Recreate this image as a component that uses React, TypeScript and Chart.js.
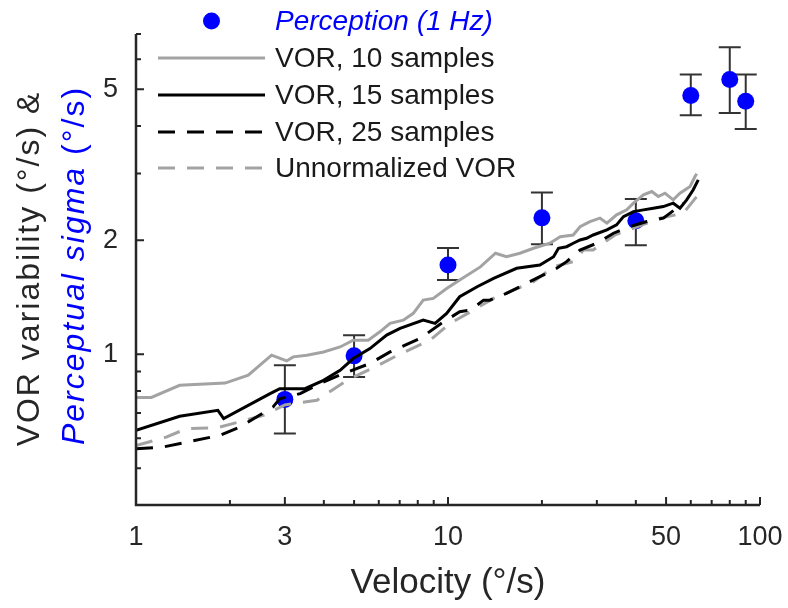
import React, { useEffect, useRef } from "react";
import { Chart, registerables } from "chart.js";

Chart.register(...registerables);

const FONT = '"Liberation Sans", Arial, Helvetica, sans-serif';

// ---- tick values ----
const xTicks = [1, 3, 10, 50, 100];
const yTicks = [1, 2, 5];
const xMinorTicks = [2, 4, 5, 6, 7, 8, 9, 20, 30, 40, 60, 70, 80, 90];
const yMinorTicks = [0.4, 0.5, 0.6, 0.7, 0.8, 0.9, 3, 4, 6, 7];

// ---- perception data (1 Hz) ----
const perceptionX = [3, 5, 10, 20, 40, 60, 80, 90];
const perceptionY = [0.76, 0.99, 1.72, 2.29, 2.25, 4.82, 5.31, 4.65];
const perceptionLow = [0.618, 0.871, 1.57, 1.95, 1.94, 4.27, 4.33, 3.93];
const perceptionHigh = [0.935, 1.123, 1.907, 2.67, 2.57, 5.47, 6.46, 5.47];

// ---- VOR, 10 samples ----
const vor10X = [1, 1.12, 1.38, 1.93, 2.29, 2.72, 3.04, 3.19, 3.53, 3.99, 4.51, 4.97, 5.55, 6.05, 6.52, 7.19, 7.74, 8.33, 8.97, 9.9, 10.9, 12.7, 14.2, 15.4, 17.0, 18.8, 21.2, 22.9, 25.2, 26.5, 28.5, 30.7, 32.3, 34.7, 37.4, 39.3, 42.3, 45.0, 47.2, 49.6, 52.7, 55.4, 59.7, 61.9, 62.7];
const vor10Y = [0.769, 0.769, 0.828, 0.839, 0.88, 0.994, 0.96, 0.984, 0.994, 1.014, 1.045, 1.089, 1.089, 1.146, 1.206, 1.23, 1.282, 1.389, 1.404, 1.49, 1.57, 1.7, 1.847, 1.809, 1.847, 1.904, 1.963, 2.043, 2.064, 2.17, 2.239, 2.286, 2.217, 2.332, 2.404, 2.504, 2.634, 2.688, 2.607, 2.661, 2.555, 2.661, 2.771, 2.945, 2.994];

// ---- VOR, 15 samples ----
const vor15X = [1, 1.38, 1.83, 1.91, 2.69, 2.89, 3.48, 3.99, 4.51, 4.97, 5.62, 6.36, 7.02, 8.33, 9.09, 9.9, 10.9, 12.4, 14.0, 16.6, 19.7, 21.8, 22.6, 24.0, 25.2, 26.5, 27.8, 29.2, 32.3, 34.7, 36.5, 39.3, 42.3, 45.5, 49.0, 52.7, 55.4, 58.2, 61.1, 63.4];
const vor15Y = [0.63, 0.686, 0.711, 0.676, 0.787, 0.811, 0.811, 0.853, 0.907, 0.974, 1.035, 1.123, 1.17, 1.23, 1.206, 1.282, 1.418, 1.507, 1.586, 1.686, 1.72, 1.809, 1.904, 1.922, 1.963, 2.002, 2.023, 2.064, 2.128, 2.194, 2.308, 2.379, 2.404, 2.429, 2.453, 2.504, 2.429, 2.555, 2.716, 2.886];

// ---- VOR, 25 samples ----
const vor25X = [1, 1.22, 1.86, 2.15, 2.75, 2.89, 3.36, 3.89, 4.62, 5.62, 6.52, 8.13, 9.43, 10.9, 11.8, 13.0, 13.6, 15.4, 17.0, 19.7, 22.3, 24.0, 26.5, 30.0, 33.9, 38.3, 43.4, 49.0, 54.1, 56.8];
const vor25Y = [0.563, 0.569, 0.611, 0.642, 0.726, 0.763, 0.787, 0.837, 0.889, 0.945, 1.014, 1.1, 1.2, 1.295, 1.307, 1.389, 1.389, 1.447, 1.507, 1.602, 1.686, 1.755, 1.884, 1.963, 2.086, 2.172, 2.239, 2.286, 2.429, 2.504];

// ---- Unnormalized VOR ----
const unnormX = [1, 1.25, 1.45, 1.83, 2.56, 3.0, 3.8, 4.74, 5.9, 7.0, 8.76, 10.15, 11.8, 14.0, 16.2, 18.8, 21.8, 25.2, 27.2, 29.2, 34.3, 47.8, 56.8, 62.7];
const unnormY = [0.574, 0.604, 0.636, 0.64, 0.69, 0.735, 0.756, 0.853, 0.93, 1.0, 1.089, 1.206, 1.294, 1.404, 1.477, 1.553, 1.702, 1.755, 1.884, 1.884, 2.064, 2.286, 2.356, 2.607];

const X_TITLE = "Velocity (°/s)";
const Y_TITLE_1 = "VOR variability (°/s) &";
const Y_TITLE_2A = "Perceptual sigma";
const Y_TITLE_2B = " (°/s)";

const BLUE = "#0000ff";
const GRAY = "#a3a3a3";
const AXIS = "#262626";

const zip = (xs: number[], ys: number[]) => xs.map((x, i) => ({ x, y: ys[i] }));

const errorBarPlugin = {
  id: "errorBars",
  beforeDatasetsDraw(chart: any) {
    const { ctx, scales } = chart;
    const x = scales.x;
    const y = scales.y;
    ctx.save();
    ctx.strokeStyle = "#333333";
    ctx.lineWidth = 2;
    perceptionX.forEach((v, i) => {
      const px = x.getPixelForValue(v);
      const pLo = y.getPixelForValue(perceptionLow[i]);
      const pHi = y.getPixelForValue(perceptionHigh[i]);
      ctx.beginPath();
      ctx.moveTo(px, pLo);
      ctx.lineTo(px, pHi);
      ctx.moveTo(px - 11, pLo);
      ctx.lineTo(px + 11, pLo);
      ctx.moveTo(px - 11, pHi);
      ctx.lineTo(px + 11, pHi);
      ctx.stroke();
    });
    ctx.restore();
  },
};

const axesPlugin = {
  id: "matlabAxes",
  afterDatasetsDraw(chart: any) {
    const { ctx, chartArea: a, scales } = chart;
    const x = scales.x;
    const y = scales.y;
    ctx.save();
    ctx.strokeStyle = AXIS;
    ctx.lineWidth = 2.5;
    ctx.beginPath();
    ctx.moveTo(a.left, a.top);
    ctx.lineTo(a.left, a.bottom);
    ctx.lineTo(a.right, a.bottom);
    ctx.stroke();
    ctx.lineWidth = 2;
    ctx.beginPath();
    const xt = (vals: number[], len: number) => {
      vals.forEach((v) => {
        const px = x.getPixelForValue(v);
        ctx.moveTo(px, a.bottom);
        ctx.lineTo(px, a.bottom - len);
      });
    };
    const yt = (vals: number[], len: number) => {
      vals.forEach((v) => {
        const py = y.getPixelForValue(v);
        ctx.moveTo(a.left, py);
        ctx.lineTo(a.left + len, py);
      });
    };
    xt(xTicks, 8);
    xt(xMinorTicks, 5);
    yt(yTicks, 8);
    yt(yMinorTicks, 5);
    ctx.stroke();
    ctx.restore();
  },
};

const yTitlePlugin = {
  id: "yTitle",
  afterDraw(chart: any) {
    const { ctx, chartArea: a } = chart;
    const cy = (a.top + a.bottom) / 2 - 1;
    const size = 32;
    const spacing = "2px";
    ctx.save();
    ctx.translate(30, cy);
    ctx.rotate(-Math.PI / 2);
    ctx.font = `${size}px ${FONT}`;
    (ctx as any).letterSpacing = spacing;
    ctx.fillStyle = AXIS;
    ctx.textAlign = "center";
    ctx.textBaseline = "middle";
    ctx.fillText(Y_TITLE_1, 0, 0);
    ctx.restore();

    ctx.save();
    ctx.translate(75, cy - 3);
    ctx.rotate(-Math.PI / 2);
    (ctx as any).letterSpacing = spacing;
    ctx.font = `italic ${size}px ${FONT}`;
    const w1 = ctx.measureText(Y_TITLE_2A).width;
    ctx.font = `${size}px ${FONT}`;
    const w2 = ctx.measureText(Y_TITLE_2B).width;
    const sx = -(w1 + w2) / 2;
    ctx.textAlign = "left";
    ctx.textBaseline = "middle";
    ctx.fillStyle = BLUE;
    ctx.font = `italic ${size}px ${FONT}`;
    ctx.fillText(Y_TITLE_2A, sx, 0);
    ctx.font = `${size}px ${FONT}`;
    ctx.fillText(Y_TITLE_2B, sx + w1, 0);
    ctx.restore();
  },
};

const legendPlugin = {
  id: "matlabLegend",
  afterDraw(chart: any) {
    const { ctx } = chart;
    const rowY = [21, 58, 95, 132, 168];
    const lineX0 = 158;
    const lineX1 = 265;
    const textX = 275;
    ctx.save();
    ctx.textAlign = "left";
    ctx.textBaseline = "middle";
    chart.data.datasets.forEach((ds: any, i: number) => {
      const yy = rowY[i];
      if (ds.isMarker) {
        ctx.fillStyle = ds.backgroundColor;
        ctx.beginPath();
        ctx.arc((lineX0 + lineX1) / 2, yy, ds.pointRadius, 0, Math.PI * 2);
        ctx.fill();
        ctx.font = `italic 28px ${FONT}`;
        ctx.fillStyle = BLUE;
      } else {
        ctx.strokeStyle = ds.borderColor;
        ctx.lineWidth = ds.borderWidth;
        ctx.setLineDash(ds.borderDash || []);
        ctx.beginPath();
        ctx.moveTo(lineX0, yy);
        ctx.lineTo(lineX1, yy);
        ctx.stroke();
        ctx.setLineDash([]);
        ctx.font = `28px ${FONT}`;
        ctx.fillStyle = "#1a1a1a";
      }
      ctx.fillText(ds.label, textX, yy + 1);
    });
    ctx.restore();
  },
};

export default function App() {
  const canvasRef = useRef<HTMLCanvasElement | null>(null);

  useEffect(() => {
    if (!canvasRef.current) return;
    const dash = [17, 12];
    const chart = new Chart(canvasRef.current, {
      type: "line",
      data: {
        datasets: [
          {
            label: "Perception (1 Hz)",
            type: "scatter",
            data: zip(perceptionX, perceptionY),
            backgroundColor: BLUE,
            borderWidth: 0,
            pointRadius: 8.5,
            showLine: false,
            order: 5,
            isMarker: true,
          } as any,
          {
            label: "VOR, 10 samples",
            data: zip(vor10X, vor10Y),
            borderColor: GRAY,
            borderWidth: 3,
            pointRadius: 0,
            tension: 0,
            order: 3,
          },
          {
            label: "VOR, 15 samples",
            data: zip(vor15X, vor15Y),
            borderColor: "#000000",
            borderWidth: 3,
            pointRadius: 0,
            tension: 0,
            order: 1,
          },
          {
            label: "VOR, 25 samples",
            data: zip(vor25X, vor25Y),
            borderColor: "#000000",
            borderWidth: 3,
            borderDash: dash,
            pointRadius: 0,
            tension: 0,
            order: 2,
          },
          {
            label: "Unnormalized VOR",
            data: zip(unnormX, unnormY),
            borderColor: GRAY,
            borderWidth: 3,
            borderDash: dash,
            pointRadius: 0,
            tension: 0,
            order: 4,
          },
        ],
      },
      options: {
        animation: false,
        responsive: false,
        devicePixelRatio: 1,
        layout: { padding: { left: 0, top: 34, right: 28, bottom: 0 } },
        plugins: {
          legend: { display: false },
          tooltip: { enabled: false },
        },
        scales: {
          x: {
            type: "logarithmic",
            min: 1,
            max: 100,
            grid: { display: false, drawTicks: false },
            border: { display: false },
            afterBuildTicks: (scale: any) => {
              scale.ticks = xTicks.map((v) => ({ value: v }));
            },
            afterFit: (scale: any) => {
              scale.height = 103;
              scale.paddingLeft = 0;
              scale.paddingRight = 0;
            },
            ticks: {
              autoSkip: false,
              maxRotation: 0,
              padding: 16,
              color: AXIS,
              font: { family: FONT, size: 27 },
              callback: (v: any) => String(v),
            },
            title: {
              display: true,
              text: X_TITLE,
              color: AXIS,
              font: { family: FONT, size: 35 },
              padding: { top: 0, bottom: 4 },
            },
          },
          y: {
            type: "logarithmic",
            min: 0.4,
            max: 7,
            grid: { display: false, drawTicks: false },
            border: { display: false },
            afterBuildTicks: (scale: any) => {
              scale.ticks = yTicks.map((v) => ({ value: v }));
            },
            afterFit: (scale: any) => {
              scale.width = 136;
              scale.paddingTop = 0;
              scale.paddingBottom = 0;
            },
            ticks: {
              autoSkip: false,
              padding: 18,
              color: AXIS,
              font: { family: FONT, size: 27 },
              callback: (v: any) => String(v),
            },
          },
        },
      },
      plugins: [errorBarPlugin, axesPlugin, yTitlePlugin, legendPlugin],
    } as any);
    return () => chart.destroy();
  }, []);

  return (
    <div style={{ position: "fixed", left: 0, top: 0, width: 788, height: 608, background: "#ffffff" }}>
      <canvas ref={canvasRef} width={788} height={608} style={{ width: 788, height: 608 }} />
    </div>
  );
}
